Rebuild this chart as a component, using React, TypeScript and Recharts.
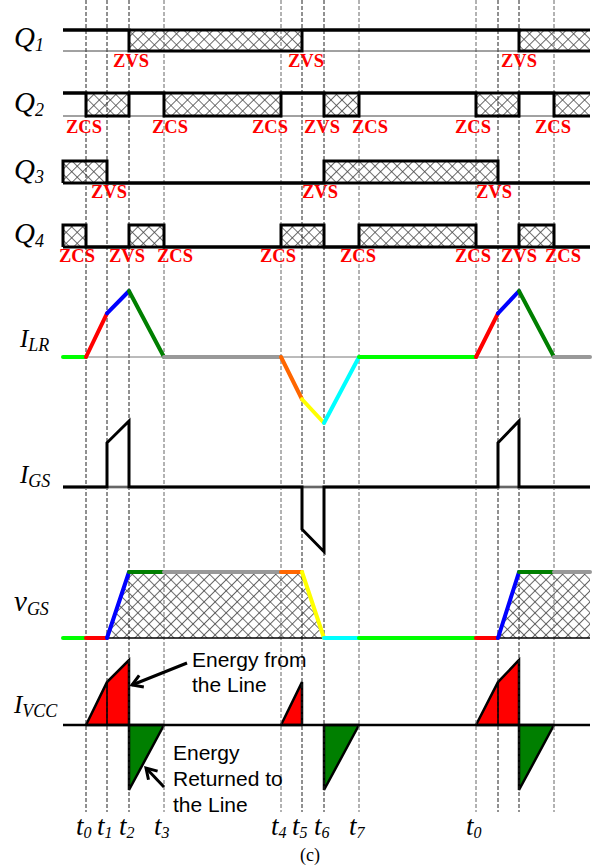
import React from 'react';
import { ComposedChart, XAxis, YAxis, Line, Area, Scatter, ReferenceLine, ReferenceArea } from 'recharts';

const WIDTH = 592;
const HEIGHT = 865;

// time axis (t0 of first period = 0)
const T_START = -23;
const T_END = 504;
const INSTANTS = [0, 21, 43, 78, 195, 216, 238, 273, 390, 412, 433, 468];
const INSTANT_LABELS = ['0', '1', '2', '3', '4', '5', '6', '7', '0', '', '', ''];
const INSTANT_DARK = [true, true, true, false, false, true, true, false, false, true, true, false];

// gate signals: interval edges + level of each interval
const Q1_EDGES = [T_START, 43, 216, 433, T_END];
const Q1_LEVELS = [1, 0, 1, 0];
const Q2_EDGES = [T_START, 0, 43, 78, 195, 238, 273, 390, 433, 468, T_END];
const Q2_LEVELS = [1, 0, 1, 0, 1, 0, 1, 0, 1, 0];
const Q3_EDGES = [T_START, 21, 238, 412, T_END];
const Q3_LEVELS = [1, 0, 1, 0];
const Q4_EDGES = [T_START, 0, 43, 78, 195, 238, 273, 390, 433, 468, T_END];
const Q4_LEVELS = [1, 0, 1, 0, 1, 0, 1, 0, 1, 0];

// soft switching tags [t, text]
const Q1_TAGS: [number, string][] = [[45, 'ZVS'], [220, 'ZVS'], [433, 'ZVS']];
const Q2_TAGS: [number, string][] = [[-2, 'ZCS'], [84, 'ZCS'], [184, 'ZCS'], [236, 'ZVS'], [284, 'ZCS'], [387, 'ZCS'], [467, 'ZCS']];
const Q3_TAGS: [number, string][] = [[23, 'ZVS'], [234, 'ZVS'], [408, 'ZVS']];
const Q4_TAGS: [number, string][] = [[-9, 'ZCS'], [41, 'ZVS'], [89, 'ZCS'], [192, 'ZCS'], [272, 'ZCS'], [387, 'ZCS'], [433, 'ZVS'], [477, 'ZCS']];

// analog waveforms [t, normalised value]
const ILR_POINTS = [[-23, 0], [0, 0], [21, 0.66], [43, 1], [78, 0], [195, 0], [216, -0.64], [238, -1], [273, 0], [390, 0], [412, 0.66], [433, 1], [468, 0], [504, 0]];
const VGS_POINTS = [[-23, 0], [0, 0], [21, 0], [43, 1], [78, 1], [195, 1], [216, 1], [238, 0], [273, 0], [390, 0], [412, 0], [433, 1], [468, 1], [504, 1]];
const SEG_COLORS = ['#00ff00', '#ff0000', '#0000ff', '#007f00', '#999999', '#ff6600', '#ffff00', '#00ffff', '#00ff00', '#ff0000', '#0000ff', '#007f00', '#999999'];
const IGS_POINTS = [[-23, 0], [21, 0], [21, 0.67], [43, 1], [43, 0], [216, 0], [216, -0.64], [238, -0.98], [238, 0], [412, 0], [412, 0.67], [433, 1], [433, 0], [504, 0]];
const IVCC_POS = [
  [[0, 0], [21, 0.66], [43, 1], [43, 0]],
  [[195, 0], [216, 0.66], [216, 0]],
  [[390, 0], [412, 0.66], [433, 1], [433, 0]],
];
const IVCC_NEG = [
  [[43, 0], [43, -1], [78, 0]],
  [[238, 0], [238, -1], [273, 0]],
  [[433, 0], [433, -1], [468, 0]],
];
const IVCC_SPLITS = [[21, 0.66], [412, 0.66]];

// layout rows (baseline y, gain per unit)
const ROW_Q1 = { base: 51, gain: 21, tagY: 67 };
const ROW_Q2 = { base: 116, gain: 23, tagY: 133 };
const ROW_Q3 = { base: 183, gain: 22, tagY: 198 };
const ROW_Q4 = { base: 247, gain: 22, tagY: 262 };
const ROW_ILR = { base: 357, gain: 66 };
const ROW_IGS = { base: 487, gain: 66 };
const ROW_VGS = { base: 638, gain: 66 };
const ROW_IVCC = { base: 725, gain: 65 };

const SYMBOLS = [
  { t: -72, y: 47, main: 'Q', sub: '1', size: 29 },
  { t: -72, y: 112, main: 'Q', sub: '2', size: 29 },
  { t: -72, y: 179, main: 'Q', sub: '3', size: 29 },
  { t: -72, y: 243, main: 'Q', sub: '4', size: 29 },
  { t: -66, y: 347, main: 'I', sub: 'LR', size: 25 },
  { t: -66, y: 483, main: 'I', sub: 'GS', size: 25 },
  { t: -72, y: 611, main: 'v', sub: 'GS', size: 29 },
  { t: -72, y: 713, main: 'I', sub: 'VCC', size: 25 },
];

const NOTES = [
  { t: 106, y: 667, lines: ['Energy from', 'the Line'] },
  { t: 87, y: 760, lines: ['Energy', 'Returned to', 'the Line'] },
];
const ARROWS = [
  { from: [101, 663], to: [46, 685] },
  { from: [78, 787], to: [60, 768] },
];

const HATCH = 'url(#xhatch)';
const SERIF = "'Liberation Serif', 'Times New Roman', serif";
const SANS = "'Liberation Sans', Arial, sans-serif";

const at = (row: { base: number; gain: number }, v: number) => row.base - v * row.gain;
const toSeries = (pts: number[][], row: { base: number; gain: number }) => pts.map(([t, v]) => ({ t, y: at(row, v) }));

function stepPoints(edges: number[], levels: number[], lead: number) {
  const pts = [{ t: edges[0], v: lead }];
  levels.forEach((lv, i) => {
    pts.push({ t: edges[i], v: lv });
    pts.push({ t: edges[i + 1], v: lv });
  });
  return pts;
}

const Q_SIGNALS = [
  { edges: Q1_EDGES, levels: Q1_LEVELS, hatchOn: 0, tags: Q1_TAGS, row: ROW_Q1 },
  { edges: Q2_EDGES, levels: Q2_LEVELS, hatchOn: 0, tags: Q2_TAGS, row: ROW_Q2 },
  { edges: Q3_EDGES, levels: Q3_LEVELS, hatchOn: 1, tags: Q3_TAGS, row: ROW_Q3 },
  { edges: Q4_EDGES, levels: Q4_LEVELS, hatchOn: 1, tags: Q4_TAGS, row: ROW_Q4 },
];

const TagText = (p: any) => (
  <text x={p.cx} y={p.cy} textAnchor="middle" fontFamily={SERIF} fontWeight="bold" fontSize={18.5} fill="#ff0000">
    {p.payload.label}
  </text>
);

const SymbolText = (p: any) => (
  <text x={p.cx} y={p.cy} fontFamily={SERIF} fontStyle="italic" fontSize={p.payload.size} fill="#000">
    {p.payload.main}
    <tspan fontSize={18} dy={4}>{p.payload.sub}</tspan>
  </text>
);

const TimeText = (p: any) => (
  <text x={p.cx - 10} y={p.cy} fontFamily={SERIF} fontStyle="italic" fontSize={27} fill="#000">
    t<tspan fontSize={16} dy={3}>{p.payload.label}</tspan>
  </text>
);

const NoteText = (p: any) => (
  <text x={p.cx} y={p.cy} fontFamily={SANS} fontSize={21} fill="#000">
    {p.payload.lines.map((l: string, i: number) => (
      <tspan key={i} x={p.cx} dy={i === 0 ? 0 : p.payload.step}>{l}</tspan>
    ))}
  </text>
);

const CaptionText = (p: any) => (
  <text x={p.cx} y={p.cy} textAnchor="middle" fontFamily={SERIF} fontSize={18} fill="#000">
    {p.payload.label}
  </text>
);

function arrowHead(from: number[], to: number[]) {
  const dx = to[0] - from[0];
  const dy = to[1] - from[1];
  const len = Math.hypot(dx, dy);
  const ux = dx / len;
  const uy = dy / len;
  const L = 12;
  const a = 0.55;
  const wing = (s: number) => {
    const c = Math.cos(s * a);
    const sn = Math.sin(s * a);
    const rx = ux * c - uy * sn;
    const ry = ux * sn + uy * c;
    return { t: to[0] - rx * L, y: to[1] - ry * L };
  };
  return [wing(1), { t: to[0], y: to[1] }, wing(-1)];
}

export default function App() {
  const lineProps = { dot: false, isAnimationActive: false, type: 'linear' as const, dataKey: 'y' };

  return (
    <div style={{ position: 'absolute', left: 0, top: 0, width: WIDTH, height: HEIGHT, background: '#fff' }}>
      <ComposedChart width={WIDTH} height={HEIGHT} margin={{ top: 0, right: 0, bottom: 0, left: 0 }}>
        <defs>
          <pattern id="xhatch" width="7.8" height="7.8" patternUnits="userSpaceOnUse" patternTransform="rotate(45)">
            <rect width="7.8" height="7.8" fill="#fff" />
            <path d="M0 0 L0 7.8 M0 0 L7.8 0" stroke="#444" strokeWidth="1.6" />
          </pattern>
        </defs>
        <XAxis type="number" dataKey="t" domain={[-86, 506]} hide allowDataOverflow />
        <YAxis type="number" dataKey="y" domain={[0, HEIGHT]} reversed hide allowDataOverflow />

        {/* gate signal hatch boxes */}
        {Q_SIGNALS.map((q, qi) =>
          q.levels.map((lv, i) =>
            lv === q.hatchOn ? (
              <ReferenceArea
                key={`h${qi}-${i}`}
                x1={q.edges[i]}
                x2={q.edges[i + 1]}
                y1={at(q.row, 1)}
                y2={at(q.row, 0)}
                fill={HATCH}
                fillOpacity={1}
                stroke="none"
              />
            ) : null
          )
        )}

        {/* dashed switching instants */}
        {INSTANTS.map((t, i) => (
          <ReferenceLine
            key={`d${i}`}
            segment={[{ x: t, y: 0 }, { x: t, y: 812 }]}
            stroke={INSTANT_DARK[i] ? '#222' : '#666'}
            strokeDasharray="4 2"
            strokeWidth={1}
          />
        ))}

        {/* v_GS hatched plateau */}
        <Area
          data={VGS_POINTS.map(([t, v]) => ({ t, r: [ROW_VGS.base, at(ROW_VGS, v)] }))}
          dataKey="r"
          type="linear"
          fill={HATCH}
          fillOpacity={1}
          stroke="none"
          isAnimationActive={false}
        />

        {/* I_VCC energy areas */}
        {IVCC_POS.map((poly, i) => (
          <Area
            key={`p${i}`}
            data={poly.map(([t, v]) => ({ t, r: [ROW_IVCC.base, at(ROW_IVCC, v)] }))}
            dataKey="r"
            type="linear"
            fill="#ff0000"
            fillOpacity={1}
            stroke="#000"
            strokeWidth={2.5}
            isAnimationActive={false}
          />
        ))}
        {IVCC_NEG.map((poly, i) => (
          <Area
            key={`n${i}`}
            data={poly.map(([t, v]) => ({ t, r: [ROW_IVCC.base, at(ROW_IVCC, v)] }))}
            dataKey="r"
            type="linear"
            fill="#007f00"
            fillOpacity={1}
            stroke="#000"
            strokeWidth={2.5}
            isAnimationActive={false}
          />
        ))}
        {IVCC_SPLITS.map(([t, v], i) => (
          <Line key={`s${i}`} {...lineProps} data={toSeries([[t, 0], [t, v]], ROW_IVCC)} stroke="#000" strokeWidth={1.5} />
        ))}
        <Line {...lineProps} data={toSeries([[T_START, 0], [T_END, 0]], ROW_IVCC)} stroke="#000" strokeWidth={2.5} />

        {/* gate signal outlines */}
        {Q_SIGNALS.map((q, qi) => (
          <React.Fragment key={`q${qi}`}>
            {q.hatchOn === 0 && (
              <Line {...lineProps} data={toSeries([[T_START, 0], [T_END, 0]], q.row)} stroke="#444" strokeWidth={1} />
            )}
            <Line
              {...lineProps}
              data={toSeries([[T_START, 1 - q.hatchOn], [T_END, 1 - q.hatchOn]], q.row)}
              stroke="#000"
              strokeWidth={3}
            />
            <Line
              {...lineProps}
              data={stepPoints(q.edges, q.levels, 1 - q.hatchOn).map((p) => ({ t: p.t, y: at(q.row, p.v) }))}
              stroke="#000"
              strokeWidth={3}
              strokeLinejoin="miter"
            />
          </React.Fragment>
        ))}

        {/* I_LR */}
        <Line {...lineProps} data={toSeries([[T_START, 0], [T_END, 0]], ROW_ILR)} stroke="#777" strokeWidth={1} />
        {SEG_COLORS.map((c, i) => (
          <Line
            key={`lr${i}`}
            {...lineProps}
            data={toSeries([ILR_POINTS[i], ILR_POINTS[i + 1]], ROW_ILR)}
            stroke={c}
            strokeWidth={4}
            strokeLinecap="round"
          />
        ))}

        {/* I_GS */}
        <Line {...lineProps} data={toSeries([[T_START, 0], [T_END, 0]], ROW_IGS)} stroke="#ccc" strokeWidth={4} />
        <Line {...lineProps} data={toSeries([[T_START, 0], [T_END, 0]], ROW_IGS)} stroke="#000" strokeWidth={1} />
        <Line {...lineProps} data={toSeries(IGS_POINTS, ROW_IGS)} stroke="#000" strokeWidth={3} strokeLinejoin="miter" />

        {/* v_GS */}
        <Line {...lineProps} data={toSeries([[T_START, 0], [T_END, 0]], ROW_VGS)} stroke="#000" strokeWidth={1.5} />
        {SEG_COLORS.map((c, i) => (
          <Line
            key={`vg${i}`}
            {...lineProps}
            data={toSeries([VGS_POINTS[i], VGS_POINTS[i + 1]], ROW_VGS)}
            stroke={c}
            strokeWidth={4}
            strokeLinecap="round"
          />
        ))}

        {/* arrows */}
        {ARROWS.map((a, i) => (
          <React.Fragment key={`a${i}`}>
            <Line {...lineProps} data={[{ t: a.from[0], y: a.from[1] }, { t: a.to[0], y: a.to[1] }]} stroke="#000" strokeWidth={3} />
            <Line {...lineProps} data={arrowHead(a.from, a.to)} stroke="#000" strokeWidth={3} strokeLinejoin="miter" />
          </React.Fragment>
        ))}

        {/* texts */}
        {Q_SIGNALS.map((q, qi) => (
          <Scatter
            key={`tg${qi}`}
            data={q.tags.map(([t, label]) => ({ t, y: q.row.tagY, label }))}
            shape={TagText}
            isAnimationActive={false}
          />
        ))}
        <Scatter data={SYMBOLS} shape={SymbolText} isAnimationActive={false} />
        <Scatter
          data={INSTANTS.map((t, i) => ({ t, y: 835, label: INSTANT_LABELS[i] })).filter((d) => d.label !== '')}
          shape={TimeText}
          isAnimationActive={false}
        />
        <Scatter data={NOTES.map((n, i) => ({ ...n, step: i === 0 ? 25 : 26 }))} shape={NoteText} isAnimationActive={false} />
        <Scatter data={[{ t: 224, y: 861, label: '(c)' }]} shape={CaptionText} isAnimationActive={false} />
      </ComposedChart>
    </div>
  );
}
